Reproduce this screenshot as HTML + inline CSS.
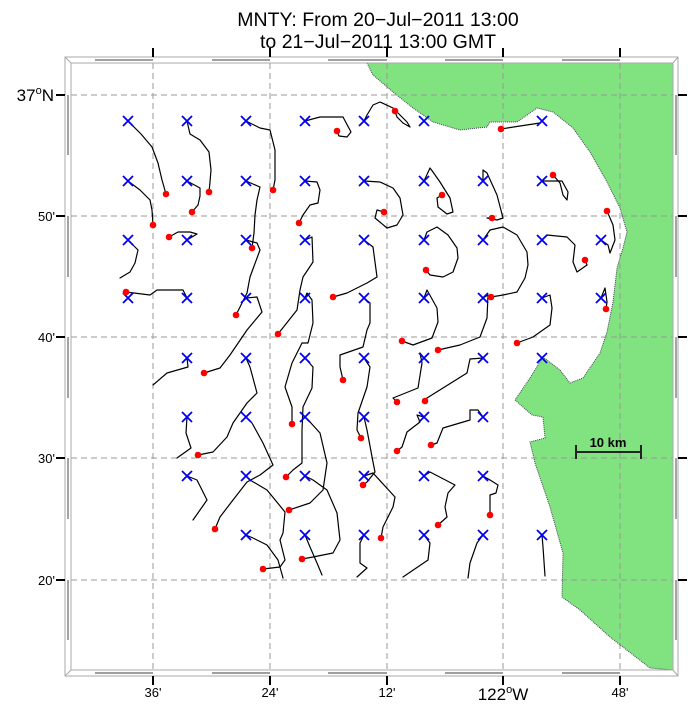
<!DOCTYPE html>
<html><head><meta charset="utf-8"><style>
html,body{margin:0;padding:0;background:#fff;}
svg{display:block;font-family:"Liberation Sans",sans-serif;}
</style></head><body>
<svg width="691" height="710" viewBox="0 0 691 710" xmlns="http://www.w3.org/2000/svg">
<rect width="691" height="710" fill="#fff"/>
<text x="378" y="26" font-size="19.5" text-anchor="middle">MNTY: From 20−Jul−2011 13:00</text>
<text x="378" y="48" font-size="19.5" text-anchor="middle">to 21−Jul−2011 13:00 GMT</text>

<!-- land -->
<path d="M367,63 L373,75 L393,92 L413,108 L433,122 L460,130 L487,127 L490,122 L517,122 L537,108 L553,112 L573,128 L590,152 L607,182 L620,208 L627,232 L623,248 L617,268 L613,302 L607,332 L600,353 L583,378 L570,383 L560,370 L543,357 L530,378 L515,400 L532,415 L543,417 L545,438 L530,442 L535,463 L550,507 L563,553 L562,597 L580,610 L610,637 L650,668 L673,670 L673,63 Z" fill="#80e380" stroke="#445" stroke-width="1" stroke-dasharray="1,1"/>

<!-- grid -->
<g stroke="#999" stroke-width="1" stroke-dasharray="6,4" fill="none">
<line x1="153" y1="63" x2="153" y2="670"/><line x1="270" y1="63" x2="270" y2="670"/>
<line x1="387" y1="63" x2="387" y2="670"/><line x1="503" y1="63" x2="503" y2="670"/>
<line x1="620" y1="63" x2="620" y2="670"/>
<line x1="71" y1="95" x2="673" y2="95"/><line x1="71" y1="216" x2="673" y2="216"/>
<line x1="71" y1="337" x2="673" y2="337"/><line x1="71" y1="458" x2="673" y2="458"/>
<line x1="71" y1="580" x2="673" y2="580"/>
</g>

<!-- frame -->
<g fill="none" stroke="#aaa" stroke-width="1">
<rect x="65" y="57" width="613" height="619"/>
<rect x="71" y="63" width="602" height="607"/>
<line x1="65" y1="57" x2="71" y2="63"/><line x1="678" y1="57" x2="673" y2="63"/>
<line x1="65" y1="676" x2="71" y2="670"/><line x1="678" y1="676" x2="673" y2="670"/>
</g>
<g stroke="#666" stroke-width="1.2">
<line x1="95" y1="60" x2="153" y2="60"/><line x1="212" y1="60" x2="270" y2="60"/><line x1="328" y1="60" x2="387" y2="60"/><line x1="445" y1="60" x2="503" y2="60"/><line x1="562" y1="60" x2="620" y2="60"/>
<line x1="95" y1="673" x2="153" y2="673"/><line x1="212" y1="673" x2="270" y2="673"/><line x1="328" y1="673" x2="387" y2="673"/><line x1="445" y1="673" x2="503" y2="673"/><line x1="562" y1="673" x2="620" y2="673"/>
<line x1="68" y1="95" x2="68" y2="155"/><line x1="68" y1="216" x2="68" y2="277"/><line x1="68" y1="337" x2="68" y2="398"/><line x1="68" y1="458" x2="68" y2="519"/><line x1="68" y1="580" x2="68" y2="640"/>
<line x1="676" y1="95" x2="676" y2="155"/><line x1="676" y1="216" x2="676" y2="277"/><line x1="676" y1="337" x2="676" y2="398"/><line x1="676" y1="458" x2="676" y2="519"/><line x1="676" y1="580" x2="676" y2="640"/>
</g>
<g stroke="#000" stroke-width="2">
<line x1="153" y1="48" x2="153" y2="57"/><line x1="270" y1="48" x2="270" y2="57"/><line x1="387" y1="48" x2="387" y2="57"/><line x1="503" y1="48" x2="503" y2="57"/><line x1="620" y1="48" x2="620" y2="57"/>
<line x1="153" y1="676" x2="153" y2="685"/><line x1="270" y1="676" x2="270" y2="685"/><line x1="387" y1="676" x2="387" y2="685"/><line x1="503" y1="676" x2="503" y2="685"/><line x1="620" y1="676" x2="620" y2="685"/>
<line x1="56" y1="95" x2="65" y2="95"/><line x1="56" y1="216" x2="65" y2="216"/><line x1="56" y1="337" x2="65" y2="337"/><line x1="56" y1="458" x2="65" y2="458"/><line x1="56" y1="580" x2="65" y2="580"/>
<line x1="678" y1="95" x2="687" y2="95"/><line x1="678" y1="216" x2="687" y2="216"/><line x1="678" y1="337" x2="687" y2="337"/><line x1="678" y1="458" x2="687" y2="458"/><line x1="678" y1="580" x2="687" y2="580"/>
</g>

<!-- labels -->
<g font-size="13" text-anchor="middle">
<text x="153" y="697">36'</text><text x="270" y="697">24'</text><text x="387" y="697">12'</text><text x="620" y="697">48'</text>
</g>
<text x="503" y="700" font-size="17" text-anchor="middle">122<tspan font-size="11" dy="-7">o</tspan><tspan dy="7">W</tspan></text>
<g font-size="13" text-anchor="end">
<text x="55" y="221">50'</text><text x="55" y="342">40'</text><text x="55" y="463">30'</text><text x="55" y="585">20'</text>
</g>
<text x="54" y="101" font-size="17" text-anchor="end">37<tspan font-size="11" dy="-7">o</tspan><tspan dy="7">N</tspan></text>

<!-- scale bar -->
<text x="608" y="447" font-size="13" font-weight="bold" text-anchor="middle">10 km</text>
<g stroke="#222" stroke-width="2"><line x1="576" y1="452" x2="641" y2="452"/><line x1="576" y1="445" x2="576" y2="459"/><line x1="641" y1="445" x2="641" y2="459"/></g>

<!-- tracks -->
<g fill="none" stroke="#000" stroke-width="1.2" stroke-linejoin="round" stroke-linecap="round">
<polyline points="128,121 141,134 152,147 158,163 162,180 166,194"/>
<polyline points="187,121 190,134 200,140 209,152 211,170 210,182 209,192"/>
<polyline points="246,121 260,128 270,130 275,150 275,180 273,190"/>
<polyline points="305,121 320,117 343,117 351,132 347,137 339,136 337,131"/>
<polyline points="364,121 367,115 373,105 380,102 393,108 407,122 410,127 403,123 397,117 395,111"/>
<polyline points="542,121 540,123 520,126 501,129"/>
<polyline points="128,181 140,190 150,200 152,210 153,225"/>
<polyline points="187,181 200,188 200,196 198,205 192,212"/>
<polyline points="246,181 260,187 257,200 255,215 254,233 252,248"/>
<polyline points="305,181 317,182 320,190 318,203 310,205 303,215 299,223"/>
<polyline points="364,181 380,182 393,188 400,198 403,215 397,225 387,228 375,218 377,210 384,212"/>
<polyline points="424,181 430,168 433,172 440,182 450,198 453,212 447,214 438,207 437,198 442,195"/>
<polyline points="483,181 483,170 487,173 497,195 503,218 497,220 487,218 492,218"/>
<polyline points="542,181 547,181 562,181 568,192 567,200 563,195 560,183 553,175"/>
<polyline points="601,240 608,245 610,253 615,240 613,225 607,211"/>
<polyline points="128,240 138,250 135,263 130,272 120,278"/>
<polyline points="187,240 197,234 190,232 178,232 169,237"/>
<polyline points="246,240 257,243 260,250 250,277 247,293 236,315"/>
<polyline points="305,240 312,237 313,262 303,277 300,290 297,310 278,334"/>
<polyline points="364,240 373,247 377,277 367,283 347,293 333,297"/>
<polyline points="424,240 427,232 437,227 448,235 457,248 458,258 453,272 443,277 430,275 426,270"/>
<polyline points="483,240 490,230 503,227 517,235 527,252 528,265 525,278 517,292 503,295 491,297"/>
<polyline points="542,240 547,235 567,237 575,245 573,262 577,272 587,265 585,260"/>
<polyline points="187,298 183,290 157,290 150,295 126,292"/>
<polyline points="246,298 257,297 262,312 247,330 230,355 220,368 204,373"/>
<polyline points="305,298 307,293 312,300 313,323 308,343 302,343 292,363 285,387 292,407 292,424"/>
<polyline points="364,298 370,303 370,323 367,330 363,347 340,355 340,367 343,380"/>
<polyline points="424,298 427,290 437,308 438,322 432,338 413,345 402,341"/>
<polyline points="483,298 488,295 487,318 480,337 460,345 438,350"/>
<polyline points="542,298 550,295 552,308 550,325 533,337 517,343"/>
<polyline points="601,298 605,288 607,302 606,309"/>
<polyline points="187,358 188,367 167,373 153,385"/>
<polyline points="246,358 250,367 257,393 247,403 233,423 227,437 213,452 198,455"/>
<polyline points="305,358 313,367 312,388 303,407 302,430 302,463 293,470 286,477"/>
<polyline points="364,358 370,367 367,387 358,413 357,430 361,438"/>
<polyline points="424,358 420,353 422,363 418,388 393,398 397,402"/>
<polyline points="483,358 470,359 467,373 427,398 425,401"/>
<polyline points="187,417 186,433 191,448 177,458"/>
<polyline points="246,417 252,423 263,443 273,465 260,475 247,482 233,500 220,517 215,529"/>
<polyline points="305,417 310,422 320,433 327,463 323,490 310,503 289,510"/>
<polyline points="364,417 367,430 373,462 375,472 367,482 363,485"/>
<polyline points="424,417 417,415 420,422 407,432 402,447 397,451"/>
<polyline points="483,417 478,410 470,410 470,420 443,428 437,443 431,445"/>
<polyline points="187,476 197,480 207,500 193,520"/>
<polyline points="246,476 250,480 267,490 285,512 283,533 280,540 285,560 280,567 263,569"/>
<polyline points="305,476 313,480 327,490 337,513 340,540 333,553 313,557 302,559"/>
<polyline points="364,476 373,473 395,497 393,507 383,527 381,538"/>
<polyline points="424,476 430,472 455,485 448,493 445,507 447,517 438,525"/>
<polyline points="483,476 490,480 498,485 496,493 490,495 490,507 490,515"/>
<polyline points="246,535 253,538 267,545 278,560 283,578"/>
<polyline points="305,535 310,547 317,563 322,575"/>
<polyline points="364,535 360,543 360,563 367,568 357,577"/>
<polyline points="424,535 430,543 428,560 403,577"/>
<polyline points="483,535 477,543 470,563 468,578"/>
<polyline points="542,535 543,547 545,576"/>
</g>

<!-- X markers -->
<defs><path id="x" d="M-5,-5 L5,5 M-5,5 L5,-5" stroke="#0000ee" stroke-width="1.8"/></defs>
<g>
<use href="#x" x="128" y="121"/><use href="#x" x="187" y="121"/><use href="#x" x="246" y="121"/><use href="#x" x="305" y="121"/><use href="#x" x="364" y="121"/><use href="#x" x="424" y="121"/><use href="#x" x="542" y="121"/>
<use href="#x" x="128" y="181"/><use href="#x" x="187" y="181"/><use href="#x" x="246" y="181"/><use href="#x" x="305" y="181"/><use href="#x" x="364" y="181"/><use href="#x" x="424" y="181"/><use href="#x" x="483" y="181"/><use href="#x" x="542" y="181"/>
<use href="#x" x="128" y="240"/><use href="#x" x="187" y="240"/><use href="#x" x="246" y="240"/><use href="#x" x="305" y="240"/><use href="#x" x="364" y="240"/><use href="#x" x="424" y="240"/><use href="#x" x="483" y="240"/><use href="#x" x="542" y="240"/><use href="#x" x="601" y="240"/>
<use href="#x" x="128" y="298"/><use href="#x" x="187" y="298"/><use href="#x" x="246" y="298"/><use href="#x" x="305" y="298"/><use href="#x" x="364" y="298"/><use href="#x" x="424" y="298"/><use href="#x" x="483" y="298"/><use href="#x" x="542" y="298"/><use href="#x" x="601" y="298"/>
<use href="#x" x="187" y="358"/><use href="#x" x="246" y="358"/><use href="#x" x="305" y="358"/><use href="#x" x="364" y="358"/><use href="#x" x="424" y="358"/><use href="#x" x="483" y="358"/><use href="#x" x="542" y="358"/>
<use href="#x" x="187" y="417"/><use href="#x" x="246" y="417"/><use href="#x" x="305" y="417"/><use href="#x" x="364" y="417"/><use href="#x" x="424" y="417"/><use href="#x" x="483" y="417"/>
<use href="#x" x="187" y="476"/><use href="#x" x="246" y="476"/><use href="#x" x="305" y="476"/><use href="#x" x="364" y="476"/><use href="#x" x="424" y="476"/><use href="#x" x="483" y="476"/>
<use href="#x" x="246" y="535"/><use href="#x" x="305" y="535"/><use href="#x" x="364" y="535"/><use href="#x" x="424" y="535"/><use href="#x" x="483" y="535"/><use href="#x" x="542" y="535"/>
</g>

<!-- red dots -->
<g fill="#f00">
<circle cx="166" cy="194" r="3.3"/><circle cx="209" cy="192" r="3.3"/><circle cx="273" cy="190" r="3.3"/><circle cx="337" cy="131" r="3.3"/><circle cx="395" cy="111" r="3.3"/><circle cx="501" cy="129" r="3.3"/>
<circle cx="153" cy="225" r="3.3"/><circle cx="192" cy="212" r="3.3"/><circle cx="252" cy="248" r="3.3"/><circle cx="299" cy="223" r="3.3"/><circle cx="384" cy="212" r="3.3"/><circle cx="442" cy="195" r="3.3"/><circle cx="492" cy="218" r="3.3"/><circle cx="553" cy="175" r="3.3"/><circle cx="607" cy="211" r="3.3"/>
<circle cx="169" cy="237" r="3.3"/><circle cx="236" cy="315" r="3.3"/><circle cx="278" cy="334" r="3.3"/><circle cx="333" cy="297" r="3.3"/><circle cx="426" cy="270" r="3.3"/><circle cx="491" cy="297" r="3.3"/><circle cx="585" cy="260" r="3.3"/>
<circle cx="126" cy="292" r="3.3"/><circle cx="204" cy="373" r="3.3"/><circle cx="292" cy="424" r="3.3"/><circle cx="343" cy="380" r="3.3"/><circle cx="402" cy="341" r="3.3"/><circle cx="438" cy="350" r="3.3"/><circle cx="517" cy="343" r="3.3"/><circle cx="606" cy="309" r="3.3"/>
<circle cx="198" cy="455" r="3.3"/><circle cx="286" cy="477" r="3.3"/><circle cx="361" cy="438" r="3.3"/><circle cx="397" cy="402" r="3.3"/><circle cx="425" cy="401" r="3.3"/>
<circle cx="215" cy="529" r="3.3"/><circle cx="289" cy="510" r="3.3"/><circle cx="363" cy="485" r="3.3"/><circle cx="397" cy="451" r="3.3"/><circle cx="431" cy="445" r="3.3"/>
<circle cx="263" cy="569" r="3.3"/><circle cx="302" cy="559" r="3.3"/><circle cx="381" cy="538" r="3.3"/><circle cx="438" cy="525" r="3.3"/><circle cx="490" cy="515" r="3.3"/>
</g>
</svg>
</body></html>
